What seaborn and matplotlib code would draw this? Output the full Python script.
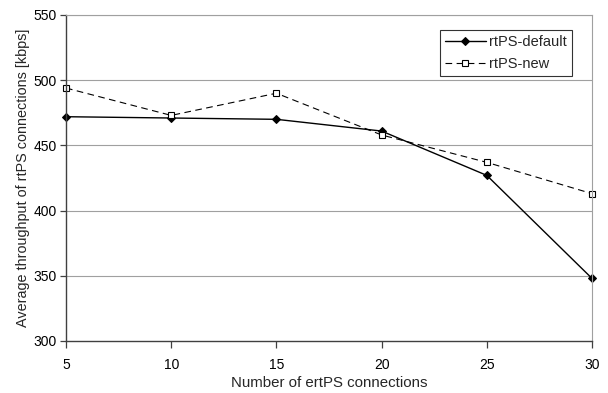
import matplotlib
matplotlib.use("Agg")
import matplotlib.pyplot as plt
import seaborn as sns
import pandas as pd

connections = [5, 10, 15, 20, 25, 30]
rtps_default = [472, 471, 470, 461, 427, 348]
rtps_new = [494, 473, 490, 458, 437, 413]
series_names = ["rtPS-default", "rtPS-new"]
y_ticks = [300, 350, 400, 450, 500, 550]
x_ticks = [5, 10, 15, 20, 25, 30]

sns.set_style("ticks")
plt.rcParams['font.family'] = ['Liberation Sans', 'DejaVu Sans']
plt.rcParams.update({
    "xtick.bottom": True, "ytick.left": True,
    "xtick.major.size": 5, "ytick.major.size": 4.5,
    "xtick.major.width": 0.9, "ytick.major.width": 0.9,
    "xtick.color": "#404040", "ytick.color": "#404040",
    "xtick.labelcolor": "black", "ytick.labelcolor": "black",
    "xtick.direction": "out", "ytick.direction": "out",
})

df_def = pd.DataFrame({"x": connections, "y": rtps_default})
df_new = pd.DataFrame({"x": connections, "y": rtps_new})

fig = plt.figure(figsize=(6.08, 3.93), dpi=100)
ax = fig.add_axes([66/608, 1-341/393, (592-66)/608, (341-15)/393])

for yt in y_ticks[1:]:
    ax.axhline(yt, color="#a0a0a0", lw=0.8, zorder=0)

sns.lineplot(data=df_def, x="x", y="y", ax=ax, color="black", lw=1.0,
             marker="D", markersize=3.8, markerfacecolor="black",
             markeredgecolor="black", label=series_names[0], clip_on=False)
sns.lineplot(data=df_new, x="x", y="y", ax=ax, color="black", lw=0.8,
             linestyle=(0, (6, 4)), marker="s", markersize=4.5,
             markerfacecolor="white", markeredgecolor="black",
             markeredgewidth=0.8, label=series_names[1], clip_on=False)

ax.set_xlim(5, 30)
ax.set_ylim(300, 550)
ax.set_xticks(x_ticks)
ax.set_yticks(y_ticks)
ax.tick_params(axis="both", labelsize=10)
ax.tick_params(axis="y", pad=2)
ax.tick_params(axis="x", pad=7)
ax.set_xlabel("Number of ertPS connections", fontsize=10.8, labelpad=3)
ax.set_ylabel("Average throughput of rtPS connections [kbps]", fontsize=10.4, labelpad=3)

for s in ["left", "bottom", "top", "right"]:
    ax.spines[s].set_visible(True)
for s in ["left", "bottom"]:
    ax.spines[s].set_color("#404040")
    ax.spines[s].set_linewidth(1.0)
for s in ["top", "right"]:
    ax.spines[s].set_color("#a0a0a0")
    ax.spines[s].set_linewidth(0.8)

leg = ax.legend(loc="upper right", bbox_to_anchor=((572-66)/526, (341-30)/326),
                fontsize=10.5, frameon=True, fancybox=False, edgecolor="black",
                handlelength=2.8, handletextpad=0.25, borderpad=0.35,
                labelspacing=0.55, borderaxespad=0)
leg.get_frame().set_linewidth(0.8)

fig.savefig("out.png", dpi=100)
